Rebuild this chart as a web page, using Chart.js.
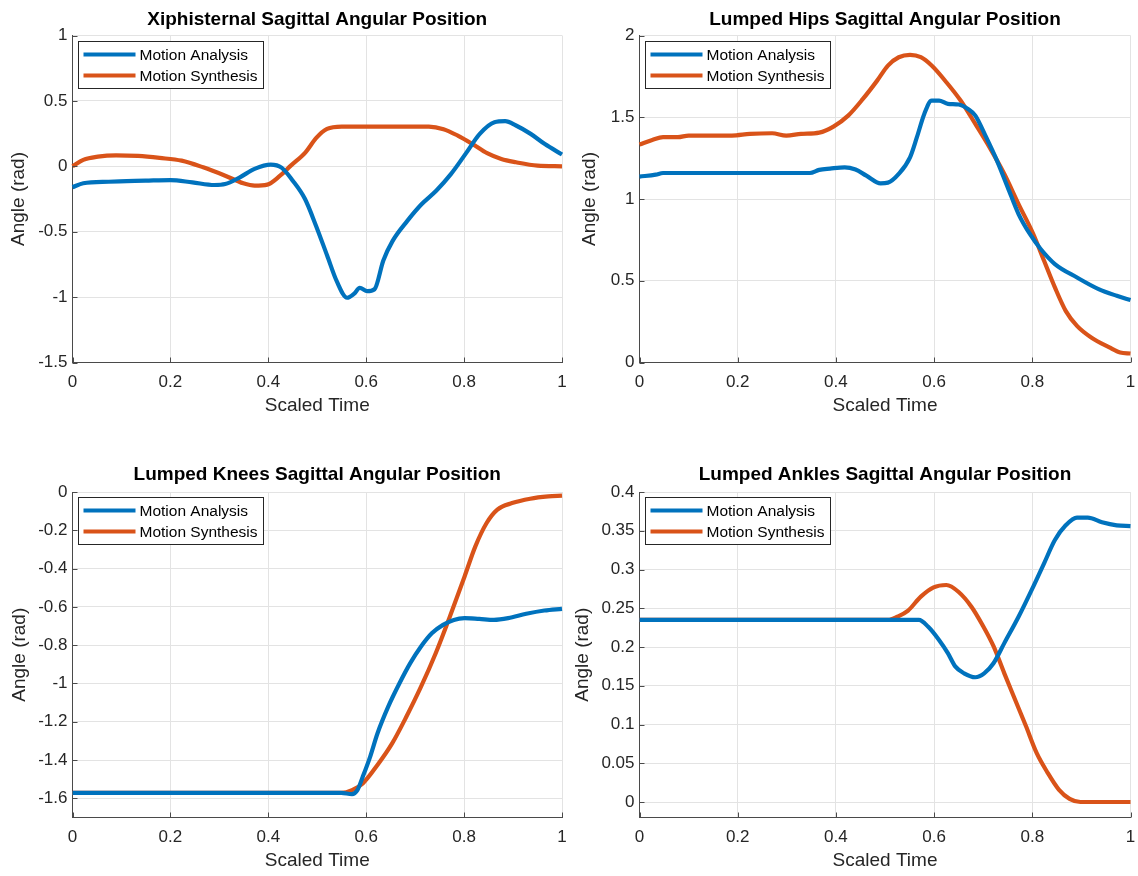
<!DOCTYPE html>
<html>
<head>
<meta charset="utf-8">
<script src="https://cdn.jsdelivr.net/npm/chart.js@4.4.0/dist/chart.umd.min.js"></script>
<style>
  html, body { margin: 0; padding: 0; background: #fff; }
  #wrap { position: relative; width: 1138px; height: 876px; background: #fff; }
  canvas { position: absolute; }
</style>
</head>
<body>
<div id="wrap">
  <canvas id="c1" width="569" height="438" style="left:0;top:0"></canvas>
  <canvas id="c2" width="569" height="438" style="left:569px;top:0"></canvas>
  <canvas id="c3" width="569" height="420" style="left:0;top:456px"></canvas>
  <canvas id="c4" width="569" height="420" style="left:569px;top:456px"></canvas>
</div>
<script>
// ---- data: scaled time (0..1) and sagittal angles (rad) ----
const seriesNames = ['Motion Analysis', 'Motion Synthesis'];
const xTicks = [0, 0.2, 0.4, 0.6, 0.8, 1];

// Xiphisternal
const xiphAnalysisT = [0,0.022,0.074,0.149,0.2,0.245,0.29,0.312,0.342,0.372,0.405,0.427,0.45,0.475,0.497,0.52,0.54,0.561,0.575,0.587,0.602,0.617,0.635,0.654,0.684,0.713,0.743,0.773,0.803,0.832,0.862,0.884,0.906,0.936,0.965,1.0];
const xiphAnalysisY = [-0.16,-0.13,-0.118,-0.11,-0.105,-0.123,-0.143,-0.136,-0.084,-0.02,0.013,-0.01,-0.11,-0.25,-0.45,-0.68,-0.88,-1.005,-0.975,-0.93,-0.955,-0.94,-0.72,-0.57,-0.417,-0.29,-0.187,-0.06,0.095,0.248,0.337,0.345,0.312,0.248,0.17,0.09];
const xiphSynthesisT = [0,0.022,0.052,0.089,0.134,0.178,0.223,0.267,0.312,0.349,0.372,0.398,0.424,0.446,0.476,0.498,0.52,0.55,0.594,0.669,0.728,0.758,0.787,0.817,0.847,0.876,0.906,0.95,1.0];
const xiphSynthesisY = [0,0.049,0.074,0.084,0.079,0.064,0.043,-0.008,-0.072,-0.13,-0.148,-0.14,-0.072,0.005,0.107,0.217,0.286,0.304,0.304,0.304,0.304,0.284,0.235,0.171,0.1,0.056,0.031,0.005,0];
const xiphYTicks = [-1.5, -1, -0.5, 0, 0.5, 1];

// Lumped hips
const hipsAnalysisT = [0,0.033,0.048,0.115,0.225,0.347,0.366,0.388,0.418,0.44,0.462,0.491,0.506,0.528,0.551,0.565,0.58,0.595,0.61,0.628,0.65,0.669,0.684,0.706,0.728,0.75,0.772,0.795,0.817,0.846,0.891,0.935,0.972,1.0];
const hipsAnalysisY = [1.137,1.149,1.159,1.159,1.159,1.159,1.178,1.186,1.194,1.18,1.143,1.096,1.1,1.153,1.255,1.378,1.52,1.602,1.602,1.582,1.578,1.551,1.51,1.378,1.235,1.071,0.908,0.786,0.694,0.602,0.52,0.449,0.408,0.382];
const hipsSynthesisT = [0,0.026,0.048,0.078,0.1,0.188,0.225,0.27,0.299,0.329,0.366,0.395,0.425,0.455,0.484,0.506,0.528,0.551,0.573,0.595,0.625,0.654,0.684,0.713,0.743,0.772,0.802,0.824,0.846,0.868,0.891,0.92,0.957,0.979,1.0];
const hipsSynthesisY = [1.333,1.361,1.378,1.378,1.388,1.388,1.398,1.402,1.388,1.398,1.406,1.443,1.51,1.612,1.724,1.816,1.867,1.882,1.867,1.816,1.714,1.602,1.459,1.316,1.153,0.969,0.786,0.622,0.459,0.316,0.224,0.153,0.092,0.061,0.055];
const hipsYTicks = [0, 0.5, 1, 1.5, 2];

// Lumped knees
const kneesAnalysisT = [0,0.2,0.4,0.549,0.571,0.582,0.593,0.608,0.623,0.645,0.668,0.69,0.712,0.734,0.757,0.779,0.801,0.831,0.861,0.89,0.927,0.964,1.0];
const kneesAnalysisY = [-1.571,-1.571,-1.571,-1.571,-1.578,-1.557,-1.487,-1.383,-1.261,-1.121,-0.999,-0.894,-0.807,-0.738,-0.694,-0.668,-0.659,-0.663,-0.668,-0.659,-0.636,-0.619,-0.61];
const kneesSynthesisT = [0,0.2,0.4,0.549,0.571,0.593,0.623,0.653,0.682,0.712,0.742,0.771,0.801,0.823,0.846,0.868,0.898,0.935,0.972,1.0];
const kneesSynthesisY = [-1.571,-1.571,-1.571,-1.571,-1.557,-1.522,-1.426,-1.313,-1.174,-1.017,-0.842,-0.65,-0.441,-0.284,-0.162,-0.092,-0.058,-0.035,-0.023,-0.019];
const kneesYTicks = [-1.6, -1.4, -1.2, -1, -0.8, -0.6, -0.4, -0.2, 0];

// Lumped ankles
const anklesAnalysisT = [0,0.2,0.4,0.506,0.569,0.588,0.61,0.628,0.643,0.661,0.684,0.702,0.721,0.743,0.772,0.802,0.824,0.846,0.868,0.891,0.913,0.942,0.972,1.0];
const anklesAnalysisY = [0.235,0.235,0.235,0.235,0.235,0.226,0.209,0.192,0.175,0.166,0.161,0.166,0.179,0.205,0.239,0.278,0.308,0.338,0.357,0.367,0.367,0.361,0.357,0.356];
const anklesSynthesisT = [0,0.2,0.4,0.506,0.525,0.547,0.573,0.599,0.625,0.65,0.676,0.698,0.721,0.743,0.765,0.787,0.809,0.831,0.854,0.876,0.898,0.95,1.0];
const anklesSynthesisY = [0.235,0.235,0.235,0.235,0.239,0.247,0.265,0.277,0.28,0.271,0.252,0.229,0.201,0.166,0.132,0.098,0.063,0.038,0.016,0.004,0,0,0];
const anklesYTicks = [0, 0.05, 0.1, 0.15, 0.2, 0.25, 0.3, 0.35, 0.4];

// ---- styling ----
const FONT = '"Liberation Sans", Arial, Helvetica, sans-serif';
const BLUE = '#0072BD';
const ORANGE = '#D95319';
const TEXT = '#262626';
const AXIS = '#4a4a4a';
const GRID = '#e3e3e3';

const pts = (t, y) => t.map((v, i) => ({ x: v, y: y[i] }));
const fmt = v => String(+Number(v).toFixed(3));

// short tick marks pointing into the plot area along both axes
const innerTicks = {
  id: 'innerTicks',
  afterDatasetsDraw(chart) {
    const { ctx, chartArea, scales } = chart;
    ctx.save();
    ctx.strokeStyle = AXIS;
    ctx.lineWidth = 1;
    ctx.beginPath();
    scales.x.ticks.forEach(t => {
      const px = Math.round(scales.x.getPixelForValue(t.value)) + 0.5;
      ctx.moveTo(px, chartArea.bottom);
      ctx.lineTo(px, chartArea.bottom - 5);
    });
    scales.y.ticks.forEach(t => {
      const py = Math.round(scales.y.getPixelForValue(t.value)) + 0.5;
      ctx.moveTo(chartArea.left, py);
      ctx.lineTo(chartArea.left + 5, py);
    });
    ctx.stroke();
    ctx.restore();
  }
};

// legend with a framed box inside the top-left corner of the plot area
const boxLegend = {
  id: 'boxLegend',
  afterDatasetsDraw(chart) {
    const { ctx, chartArea } = chart;
    const ds = chart.data.datasets;
    ctx.save();
    ctx.font = '15.5px ' + FONT;
    const textW = Math.max(...ds.map(d => ctx.measureText(d.label).width));
    const x = Math.round(chartArea.left + 5.5), y = Math.round(chartArea.top + 5);
    const w = Math.round(61.5 + textW + 5), h = 47;
    ctx.fillStyle = '#fff';
    ctx.fillRect(x, y, w, h);
    ctx.strokeStyle = TEXT;
    ctx.lineWidth = 1;
    ctx.strokeRect(x + 0.5, y + 0.5, w, h);
    ds.forEach((d, i) => {
      const cy = y + 13.5 + i * 21;
      ctx.beginPath();
      ctx.moveTo(x + 5.5, cy);
      ctx.lineTo(x + 57.5, cy);
      ctx.strokeStyle = d.borderColor;
      ctx.lineWidth = d.borderWidth;
      ctx.stroke();
      ctx.fillStyle = '#000';
      ctx.textBaseline = 'middle';
      ctx.textAlign = 'left';
      ctx.fillText(d.label, x + 61.5, cy + 1);
    });
    ctx.restore();
  }
};

function makePanel(id, title, analysis, synthesis, yTicks, yMin, yMax, g) {
  const line = (label, data, color) => ({
    label, data, borderColor: color, backgroundColor: color,
    borderWidth: 4.2, pointRadius: 0, showLine: true, fill: false,
    cubicInterpolationMode: 'monotone', clip: 6
  });
  return new Chart(document.getElementById(id), {
    type: 'scatter',
    data: {
      datasets: [
        line(seriesNames[0], analysis, BLUE),
        line(seriesNames[1], synthesis, ORANGE)
      ]
    },
    options: {
      responsive: false,
      animation: false,
      events: [],
      layout: { padding: { left: 0, right: g.padRight, top: 0, bottom: 0 } },
      plugins: {
        legend: { display: false },
        tooltip: { enabled: false },
        title: {
          display: true, text: title, color: '#000', fullSize: false,
          font: { family: FONT, size: 19, weight: 'bold', lineHeight: 1.2 },
          padding: { top: g.titleTop, bottom: g.titleBottom }
        }
      },
      scales: {
        x: {
          type: 'linear', min: 0, max: 1,
          afterBuildTicks: s => { s.ticks = xTicks.map(v => ({ value: v })); },
          afterFit: s => { s.height = g.xHeight; s.paddingLeft = 0; s.paddingRight = 0; },
          grid: { color: GRID, drawTicks: false, lineWidth: 1 },
          border: { display: true, color: AXIS, width: 1 },
          ticks: { color: TEXT, padding: 10, maxRotation: 0, font: { family: FONT, size: 17 }, callback: fmt },
          title: { display: true, text: 'Scaled Time', color: TEXT,
                   font: { family: FONT, size: 19, lineHeight: 1.2 },
                   padding: { top: 0, bottom: g.xTitleBottom } }
        },
        y: {
          type: 'linear', min: yMin, max: yMax,
          afterBuildTicks: s => { s.ticks = yTicks.map(v => ({ value: v })); },
          afterFit: s => { s.width = g.yWidth; s.paddingTop = 0; s.paddingBottom = 0; },
          grid: { color: GRID, drawTicks: false, lineWidth: 1 },
          border: { display: true, color: AXIS, width: 1 },
          ticks: { color: TEXT, padding: 5, font: { family: FONT, size: 17 }, callback: fmt },
          title: { display: true, text: 'Angle (rad)', color: TEXT,
                   font: { family: FONT, size: 19, lineHeight: 1.2 },
                   padding: { top: g.yTitleTop, bottom: 0 } }
        }
      }
    },
    plugins: [innerTicks, boxLegend]
  });
}

makePanel('c1', 'Xiphisternal Sagittal Angular Position',
  pts(xiphAnalysisT, xiphAnalysisY), pts(xiphSynthesisT, xiphSynthesisY),
  xiphYTicks, -1.5, 1,
  { padRight: 7, titleTop: 8.6, titleBottom: 4.1, xHeight: 75.5, xTitleBottom: 20.6, yWidth: 72.5, yTitleTop: 7.4 });

makePanel('c2', 'Lumped Hips Sagittal Angular Position',
  pts(hipsAnalysisT, hipsAnalysisY), pts(hipsSynthesisT, hipsSynthesisY),
  hipsYTicks, 0, 2,
  { padRight: 7.5, titleTop: 8.6, titleBottom: 4.1, xHeight: 75.5, xTitleBottom: 20.6, yWidth: 70.5, yTitleTop: 9.4 });

makePanel('c3', 'Lumped Knees Sagittal Angular Position',
  pts(kneesAnalysisT, kneesAnalysisY), pts(kneesSynthesisT, kneesSynthesisY),
  kneesYTicks, -1.7, 0,
  { padRight: 7, titleTop: 7.6, titleBottom: 5.6, xHeight: 58.5, xTitleBottom: 3.6, yWidth: 72.5, yTitleTop: 8.4 });

makePanel('c4', 'Lumped Ankles Sagittal Angular Position',
  pts(anklesAnalysisT, anklesAnalysisY), pts(anklesSynthesisT, anklesSynthesisY),
  anklesYTicks, -0.02, 0.4,
  { padRight: 7.5, titleTop: 7.6, titleBottom: 5.6, xHeight: 58.5, xTitleBottom: 3.6, yWidth: 70.5, yTitleTop: 2.4 });
</script>
</body>
</html>
